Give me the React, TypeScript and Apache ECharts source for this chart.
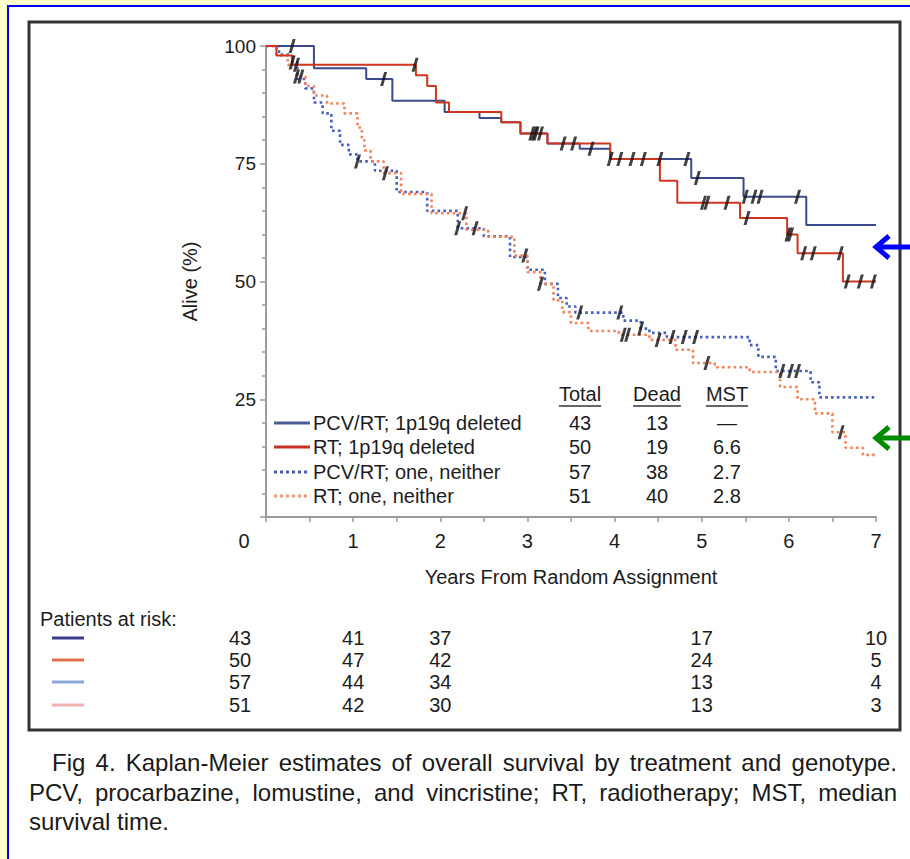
import React, { useEffect, useRef } from 'react';
import * as echarts from 'echarts';

const FONT = '"Liberation Sans", Arial, Helvetica, sans-serif';

// ---------- data ----------
const seriesNames = [
  'PCV/RT; 1p19q deleted',
  'RT; 1p19q deleted',
  'PCV/RT; one, neither',
  'RT; one, neither',
];

const pcvDelT = [0, 0.55, 1.15, 1.45, 2.05, 2.45, 2.7, 2.92, 3.23, 3.6, 3.95, 4.88, 5.48, 6.2, 7];
const pcvDelS = [100, 95.3, 93, 88.4, 86, 84.7, 83.8, 81.4, 79.3, 78.2, 76, 72, 68, 62, 62];
const pcvDelCensor = [0.3, 1.35, 3.05, 3.1, 3.41, 3.73, 4.06, 4.33, 4.52, 4.83, 4.95, 5.5, 5.6, 5.67, 6.1];

const rtDelT = [0, 0.12, 0.3, 1.72, 1.85, 1.95, 2.1, 2.7, 2.92, 3.23, 3.95, 4.52, 4.72, 5.44, 5.98, 6.1, 6.62, 7];
const rtDelS = [100, 98, 96, 93.8, 91.5, 88, 86, 83.8, 81.4, 79.3, 76, 71.4, 66.7, 63.5, 60, 56, 50, 50];
const rtDelCensor = [0.35, 1.71, 3.08, 3.15, 3.53, 3.95, 4.2, 5.02, 5.06, 5.29, 5.52, 5.99, 6.02, 6.17, 6.28, 6.59, 6.67, 6.82, 6.97];

const pcvNonT = [0, 0.15, 0.3, 0.36, 0.45, 0.55, 0.65, 0.75, 0.85, 0.95, 1.05, 1.25, 1.5, 1.85, 2.2, 2.5, 2.8, 3.0, 3.2, 3.35, 3.45, 3.55, 4.1, 4.3, 4.4, 4.6, 5.55, 5.65, 5.85, 6.25, 6.35, 7];
const pcvNonS = [100, 98.2, 96.5, 93, 91, 88, 85.7, 82, 79, 77, 75.5, 73.5, 69, 65, 61.3, 59.6, 55.2, 52.5, 49.5, 46.5, 44.7, 43.4, 41.7, 40, 39.1, 38.2, 36.5, 34, 31, 28.6, 25.4, 25.4];
const pcvNonCensor = [0.3, 1.05, 2.2, 2.4, 3.6, 4.06, 4.3, 4.66, 4.8, 4.93, 5.92, 6.02, 6.1];

const rtNonT = [0, 0.12, 0.25, 0.35, 0.45, 0.55, 0.7, 0.9, 1.05, 1.1, 1.13, 1.2, 1.35, 1.55, 1.9, 2.3, 2.55, 2.85, 3.0, 3.15, 3.3, 3.4, 3.5, 3.7, 4.05, 4.4, 4.7, 4.9, 5.15, 5.55, 5.9, 6.1, 6.3, 6.5, 6.65, 6.85, 7];
const rtNonS = [100, 98, 96, 93.5, 91.5, 89.5, 87.8, 85.7, 82.7, 80, 77.8, 75.5, 73, 68.6, 64.5, 61, 59.5, 55.5, 52, 49.5, 46, 43.5, 41.2, 39.5, 38.7, 37.6, 35.5, 32.7, 31.8, 30.8, 27.6, 25, 22, 18, 14.7, 13.2, 13.2];
const rtNonCensor = [0.35, 0.4, 1.37, 2.28, 2.97, 3.15, 4.1, 4.15, 4.5, 5.06, 6.6];

const totals = ['43', '50', '57', '51'];
const deads = ['13', '19', '38', '40'];
const msts = ['\u2014', '6.6', '2.7', '2.8'];
const tableHeaders = ['Total', 'Dead', 'MST'];

const riskYears = [0, 1, 2, 5, 7];
const riskRows = [
  [43, 41, 37, 17, 10],
  [50, 47, 42, 24, 5],
  [57, 44, 34, 13, 4],
  [51, 42, 30, 13, 3],
];

const captionLines = [
  'Fig 4. Kaplan-Meier estimates of overall survival by treatment and genotype.',
  'PCV, procarbazine, lomustine, and vincristine; RT, radiotherapy; MST, median',
  'survival time.',
];

// ---------- styles ----------
const lineColors = ['#3b4a8c', '#d0361f', '#4660c0', '#f0845c'];
const legendColors = ['#4a5e94', '#c83028', '#4858b8', '#eb9a78'];
const riskColors = ['#3c3c8c', '#e0704c', '#8aa8d8', '#f0b0b0'];
const TEXT = '#1c1c1c';

const GRID = { left: 266, top: 46, width: 610, height: 471 };

function stepAt(T: number[], S: number[], t: number) {
  let v = S[0];
  for (let i = 0; i < T.length; i++) if (T[i] <= t) v = S[i];
  return v;
}

const curves = [
  { T: pcvDelT, S: pcvDelS, C: pcvDelCensor, dotted: false },
  { T: rtDelT, S: rtDelS, C: rtDelCensor, dotted: false },
  { T: pcvNonT, S: pcvNonS, C: pcvNonCensor, dotted: true },
  { T: rtNonT, S: rtNonS, C: rtNonCensor, dotted: true },
];

const measureCtx = typeof document !== 'undefined' ? document.createElement('canvas').getContext('2d') : null;
function textWidth(s: string, font: string) {
  if (!measureCtx) return s.length * 10;
  measureCtx.font = font;
  return measureCtx.measureText(s).width;
}

function txt(text: string, x: number, y: number, opts: any = {}) {
  const align = opts.align || 'left';
  const va = opts.va || 'middle';
  return {
    type: 'text',
    silent: true,
    z: 10,
    style: {
      text,
      x,
      y,
      fill: opts.fill || TEXT,
      fontSize: opts.size || 20,
      fontFamily: FONT,
      fontWeight: opts.weight || 'normal',
      align,
      textAlign: align,
      verticalAlign: va,
      textVerticalAlign: va,
    },
  };
}

export default function App() {
  const ref = useRef<HTMLDivElement>(null);

  useEffect(() => {
    document.body.style.margin = '0';
    const chart = echarts.init(ref.current!, null, { renderer: 'svg' });

    const xPx = (yr: number) => GRID.left + (GRID.width * yr) / 7;

    const graphic: any[] = [];
    // page background: yellow bands + blue border
    graphic.push({ type: 'rect', silent: true, z: -5, shape: { x: 0, y: 0, width: 910, height: 859 }, style: { fill: '#ffffcc' } });
    graphic.push({ type: 'rect', silent: true, z: -4, shape: { x: 9, y: 7, width: 901, height: 852 }, style: { fill: '#ffffff' } });
    graphic.push({ type: 'rect', silent: true, z: -3, shape: { x: 7, y: 5, width: 2, height: 854 }, style: { fill: '#0000ff' } });
    graphic.push({ type: 'rect', silent: true, z: -3, shape: { x: 7, y: 5, width: 903, height: 2 }, style: { fill: '#0000ff' } });
    // figure frame
    graphic.push({ type: 'rect', silent: true, z: 1, shape: { x: 29, y: 22, width: 871, height: 708 }, style: { fill: 'none', stroke: '#333333', lineWidth: 3 } });

    // legend + table
    const rowY = [423, 447, 472, 496];
    const colX = [580, 657, 727];
    tableHeaders.forEach((h, i) => {
      graphic.push(txt(h, colX[i], 394, { align: 'center' }));
      const w = textWidth(h, `20px ${FONT}`);
      graphic.push({ type: 'line', silent: true, z: 10, shape: { x1: colX[i] - w / 2, y1: 406, x2: colX[i] + w / 2, y2: 406 }, style: { stroke: '#333', lineWidth: 1.5 } });
    });
    seriesNames.forEach((name, i) => {
      const y = rowY[i];
      graphic.push({
        type: 'line', silent: true, z: 10,
        shape: { x1: 274, y1: y, x2: 310, y2: y },
        style: { stroke: legendColors[i], lineWidth: 3, lineDash: curves[i].dotted ? [3, 3] : null },
      });
      graphic.push(txt(name, 313, y));
      graphic.push(txt(totals[i], colX[0], y, { align: 'center' }));
      graphic.push(txt(deads[i], colX[1], y, { align: 'center' }));
      graphic.push(txt(msts[i], colX[2], y, { align: 'center' }));
    });

    // patients at risk
    graphic.push(txt('Patients at risk:', 40, 619));
    const riskY = [638, 660, 682, 705];
    riskRows.forEach((row, i) => {
      graphic.push({ type: 'line', silent: true, z: 10, shape: { x1: 52, y1: riskY[i], x2: 84, y2: riskY[i] }, style: { stroke: riskColors[i], lineWidth: 3 } });
      row.forEach((v, j) => {
        const yr = riskYears[j];
        const x = xPx(yr) + (yr === 0 ? -26 : 0);
        graphic.push(txt(String(v), x, riskY[i], { align: 'center' }));
      });
    });

    // caption (justified)
    const capFont = `24px ${FONT}`;
    const capStart = [52, 29, 29];
    const capEnd = [897, 897, 0];
    const capY = [762, 792, 821];
    captionLines.forEach((line, i) => {
      const words = line.split(' ');
      const widths = words.map((w) => textWidth(w, capFont));
      const total = widths.reduce((a, b) => a + b, 0);
      const spaceW = textWidth(' ', capFont);
      const gap = capEnd[i] > 0 && words.length > 1 ? (capEnd[i] - capStart[i] - total) / (words.length - 1) : spaceW;
      let x = capStart[i];
      words.forEach((w, k) => {
        graphic.push(txt(w, x, capY[i], { size: 24, fill: '#1a1a1a' }));
        x += widths[k] + gap;
      });
    });

    // arrows
    const arrow = (y: number, color: string) => {
      graphic.push({ type: 'line', silent: true, z: 20, shape: { x1: 877, y1: y, x2: 910, y2: y }, style: { stroke: color, lineWidth: 5 } });
      graphic.push({ type: 'polyline', silent: true, z: 20, shape: { points: [[889, y - 11], [876, y], [889, y + 11]] }, style: { stroke: color, lineWidth: 5, fill: null, lineJoin: 'miter' } });
    };
    arrow(247, '#0000ff');
    arrow(438, '#008a00');

    const series: any[] = [];
    curves.forEach((c, i) => {
      series.push({
        name: seriesNames[i],
        type: 'line',
        step: 'end',
        showSymbol: false,
        symbol: 'none',
        z: c.dotted ? 2 : 3,
        data: c.T.map((t, k) => [t, c.S[k]]),
        lineStyle: { color: lineColors[i], width: c.dotted ? 2.6 : 2, type: c.dotted ? [2.6, 3.2] : 'solid' },
        silent: true,
      });
    });
    curves.forEach((c, i) => {
      series.push({
        name: seriesNames[i] + ' censored',
        type: 'scatter',
        symbol: 'path://M0,15 L3.4,15 L8,0 L4.6,0 Z',
        symbolSize: [7, 14],
        z: 5,
        itemStyle: { color: '#111' },
        data: c.C.map((t) => [t, stepAt(c.T, c.S, t)]),
        silent: true,
      });
    });

    const option: any = {
      animation: false,
      backgroundColor: '#ffffff',
      textStyle: { fontFamily: FONT },
      grid: { left: GRID.left, top: GRID.top, width: GRID.width, height: GRID.height, containLabel: false },
      xAxis: {
        type: 'value',
        min: 0,
        max: 7,
        interval: 1,
        name: 'Years From Random Assignment',
        nameLocation: 'middle',
        nameGap: 50,
        nameTextStyle: { fontSize: 20, color: TEXT, fontFamily: FONT },
        axisLine: { show: true, lineStyle: { color: '#9a9a9a', width: 2 } },
        axisTick: { show: true, length: 5, lineStyle: { color: '#9a9a9a', width: 1.5 } },
        minorTick: { show: true, splitNumber: 2, length: 5, lineStyle: { color: '#9a9a9a', width: 1.5 } },
        splitLine: { show: false },
        axisLabel: {
          margin: 14,
          fontSize: 20,
          color: TEXT,
          fontFamily: FONT,
          formatter: (v: number) => (v === 0 ? '{z|0}' : String(v)),
          rich: { z: { fontSize: 20, color: TEXT, fontFamily: FONT, padding: [0, 44, 0, 0] } },
        },
      },
      yAxis: {
        type: 'value',
        min: 0,
        max: 100,
        interval: 25,
        name: 'Alive (%)',
        nameLocation: 'middle',
        nameGap: 66,
        nameTextStyle: { fontSize: 20, color: TEXT, fontFamily: FONT },
        axisLine: { show: true, lineStyle: { color: '#9a9a9a', width: 2 } },
        axisTick: { show: true, length: 6, lineStyle: { color: '#9a9a9a', width: 1.5 } },
        minorTick: { show: true, splitNumber: 5, length: 4, lineStyle: { color: '#9a9a9a', width: 1.5 } },
        splitLine: { show: false },
        axisLabel: {
          margin: 10,
          fontSize: 19,
          color: TEXT,
          fontFamily: FONT,
          formatter: (v: number) => (v === 0 ? '' : String(v)),
        },
      },
      series,
      graphic: { elements: graphic },
    };

    chart.setOption(option);
    return () => chart.dispose();
  }, []);

  return <div ref={ref} style={{ position: 'absolute', left: 0, top: 0, width: 910, height: 859 }} />;
}
